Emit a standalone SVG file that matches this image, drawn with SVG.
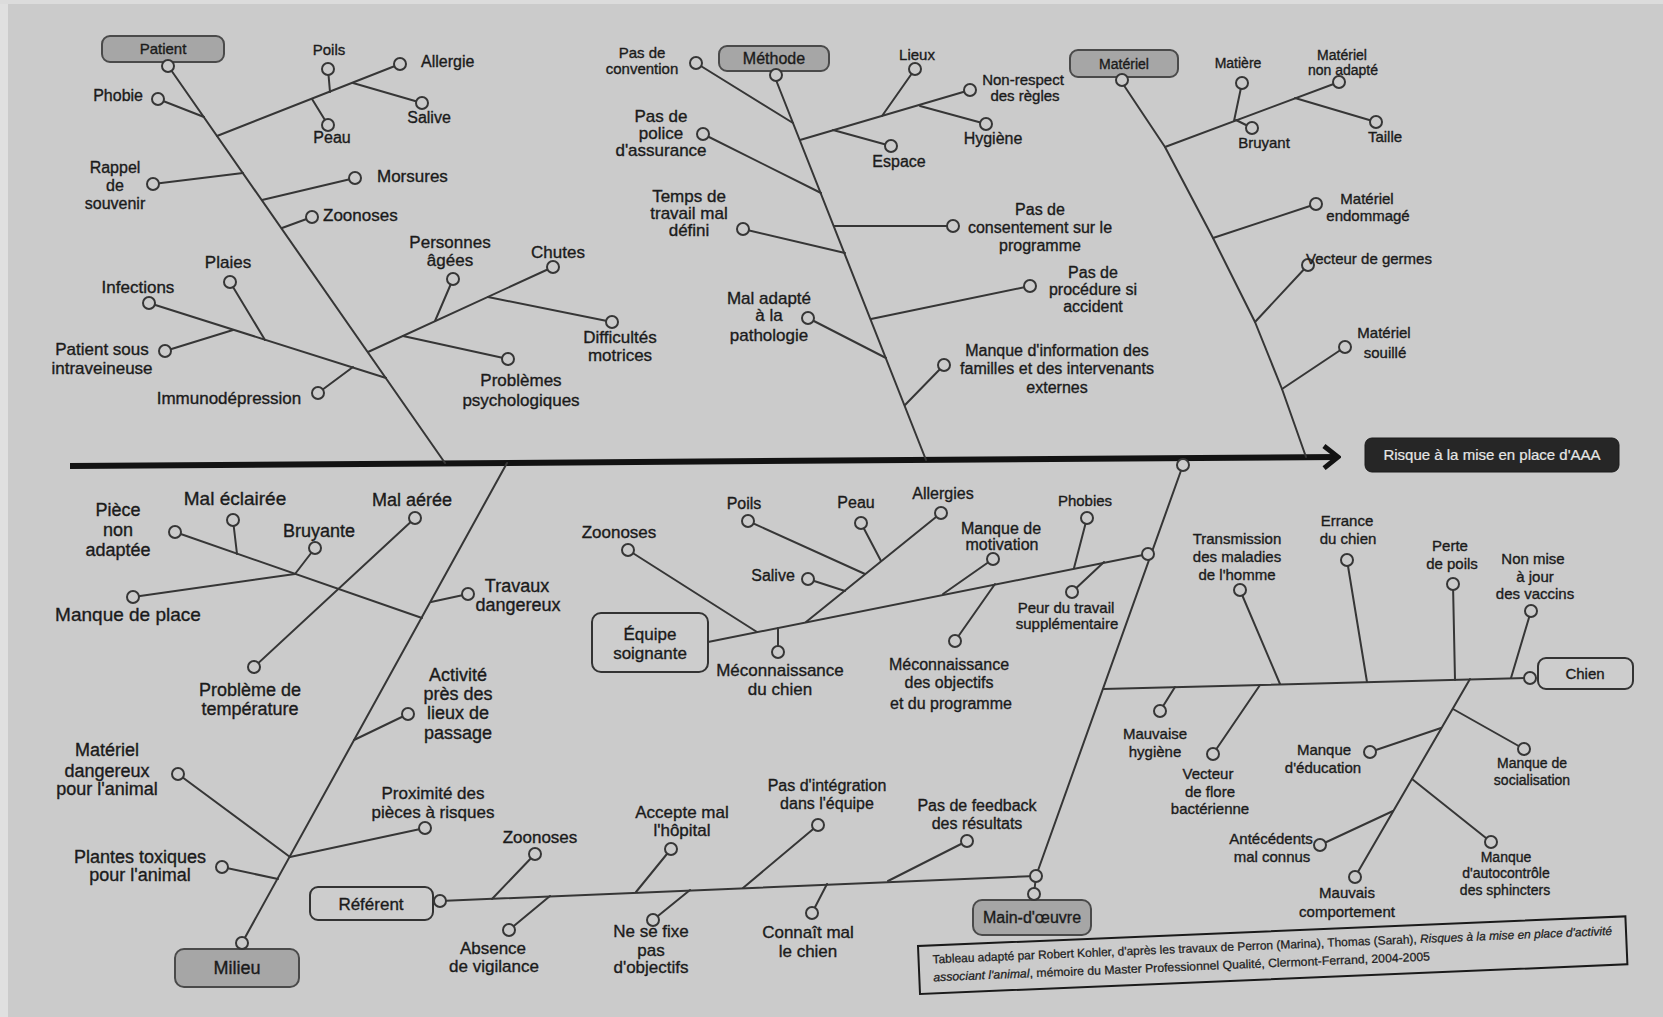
<svg xmlns="http://www.w3.org/2000/svg" width="1663" height="1017" viewBox="0 0 1663 1017">
<defs>
<style>
.ln{stroke:#363636;stroke-width:2;fill:none;stroke-linecap:round;stroke-linejoin:round}
.dot{fill:#cbcbcb;stroke:#363636;stroke-width:2}
.gbox{fill:#a6a6a6;stroke:#4a4a4a;stroke-width:2}
.lbox{fill:#cdcdcd;stroke:#333;stroke-width:2}
text{font-family:"Liberation Sans",Arial,sans-serif;fill:#1b1b1b;stroke:#1b1b1b;stroke-width:0.35px;font-size:17px;text-anchor:middle}
.f14{font-size:14px}.f15{font-size:15px}.f16{font-size:16px}.f17{font-size:17px}.f18{font-size:18px}.f19{font-size:19px}
.st{text-anchor:start}.en{text-anchor:end}
.wt{fill:#e6e6e6;stroke:#e6e6e6;stroke-width:0.2px}
.cap{font-size:12px;stroke-width:0.25px}
</style>
<marker id="arrow" viewBox="0 0 20 26" refX="17" refY="13" markerWidth="20" markerHeight="26" orient="auto" markerUnits="userSpaceOnUse">
<path d="M3,2 L17,13 L3,24" fill="none" stroke="#121212" stroke-width="5"/>
</marker>
</defs>
<rect x="0" y="0" width="1663" height="1017" fill="#cbcbcb"/>
<rect x="0" y="0" width="8" height="1017" fill="#e0e0e0"/>
<rect x="0" y="0" width="1663" height="4" fill="#dcdcdc"/>

<g id="connectors">
<line x1="70" y1="466" x2="1338" y2="457" stroke="#121212" stroke-width="6" marker-end="url(#arrow)"/>
<!-- Patient -->
<line class="ln" x1="171" y1="70" x2="445" y2="463"/>
<line class="ln" x1="204" y1="117" x2="158" y2="99"/>
<line class="ln" x1="217" y1="136" x2="400" y2="64"/>
<line class="ln" x1="330" y1="92" x2="328" y2="69"/>
<line class="ln" x1="312" y1="99" x2="328" y2="125"/>
<line class="ln" x1="353" y1="83" x2="422" y2="103"/>
<line class="ln" x1="243" y1="173" x2="153" y2="184"/>
<line class="ln" x1="262" y1="200" x2="355" y2="178"/>
<line class="ln" x1="282" y1="228" x2="312" y2="217"/>
<line class="ln" x1="368" y1="352" x2="553" y2="267"/>
<line class="ln" x1="435" y1="321" x2="453" y2="279"/>
<line class="ln" x1="488" y1="297" x2="612" y2="322"/>
<line class="ln" x1="403" y1="336" x2="508" y2="359"/>
<line class="ln" x1="386" y1="378" x2="149" y2="303"/>
<line class="ln" x1="265" y1="340" x2="230" y2="282"/>
<line class="ln" x1="233" y1="330" x2="165" y2="351"/>
<line class="ln" x1="353" y1="367" x2="318" y2="393"/>
<!-- Methode -->
<line class="ln" x1="776" y1="80" x2="926" y2="460"/>
<line class="ln" x1="793" y1="123" x2="696" y2="63"/>
<line class="ln" x1="800" y1="140" x2="970" y2="90"/>
<line class="ln" x1="882" y1="116" x2="915" y2="69"/>
<line class="ln" x1="920" y1="106" x2="986" y2="124"/>
<line class="ln" x1="833" y1="130" x2="891" y2="146"/>
<line class="ln" x1="821" y1="193" x2="703" y2="134"/>
<line class="ln" x1="834" y1="226" x2="953" y2="226"/>
<line class="ln" x1="845" y1="253" x2="743" y2="229"/>
<line class="ln" x1="871" y1="319" x2="1030" y2="286"/>
<line class="ln" x1="886" y1="358" x2="808" y2="318"/>
<line class="ln" x1="905" y1="405" x2="944" y2="365"/>
<!-- Materiel -->
<polyline class="ln" points="1123,84 1165,147 1213,238 1255,322 1282,389 1306,457"/>
<line class="ln" x1="1165" y1="147" x2="1339" y2="82"/>
<line class="ln" x1="1234" y1="121" x2="1242" y2="83"/>
<line class="ln" x1="1236" y1="120" x2="1252" y2="128"/>
<line class="ln" x1="1295" y1="98" x2="1376" y2="122"/>
<line class="ln" x1="1213" y1="238" x2="1316" y2="204"/>
<line class="ln" x1="1255" y1="322" x2="1308" y2="265"/>
<line class="ln" x1="1282" y1="389" x2="1345" y2="347"/>
<!-- Milieu -->
<line class="ln" x1="507" y1="463" x2="242" y2="943"/>
<line class="ln" x1="422" y1="618" x2="175" y2="532"/>
<line class="ln" x1="237" y1="554" x2="233" y2="520"/>
<line class="ln" x1="295" y1="574" x2="315" y2="548"/>
<line class="ln" x1="295" y1="574" x2="133" y2="597"/>
<line class="ln" x1="415" y1="518" x2="254" y2="667"/>
<line class="ln" x1="431" y1="602" x2="468" y2="594"/>
<line class="ln" x1="354" y1="740" x2="408" y2="714"/>
<line class="ln" x1="290" y1="857" x2="425" y2="828"/>
<line class="ln" x1="290" y1="857" x2="178" y2="774"/>
<line class="ln" x1="278" y1="879" x2="222" y2="867"/>
<!-- Referent -->
<line class="ln" x1="440" y1="901" x2="1036" y2="876"/>
<line class="ln" x1="492" y1="899" x2="535" y2="854"/>
<line class="ln" x1="550" y1="896" x2="509" y2="930"/>
<line class="ln" x1="636" y1="892" x2="671" y2="849"/>
<line class="ln" x1="690" y1="890" x2="653" y2="920"/>
<line class="ln" x1="743" y1="888" x2="818" y2="825"/>
<line class="ln" x1="827" y1="884" x2="812" y2="913"/>
<line class="ln" x1="888" y1="881" x2="967" y2="841"/>
<!-- Main d'oeuvre -->
<line class="ln" x1="1183" y1="465" x2="1036" y2="876"/>
<line class="ln" x1="1036" y1="876" x2="1034" y2="894"/>
<!-- Equipe soignante -->
<line class="ln" x1="708" y1="642" x2="1148" y2="554"/>
<line class="ln" x1="757" y1="632" x2="628" y2="550"/>
<line class="ln" x1="778" y1="628" x2="778" y2="652"/>
<line class="ln" x1="806" y1="622" x2="941" y2="513"/>
<line class="ln" x1="865" y1="574" x2="748" y2="521"/>
<line class="ln" x1="881" y1="561" x2="861" y2="523"/>
<line class="ln" x1="845" y1="591" x2="808" y2="579"/>
<line class="ln" x1="943" y1="594" x2="993" y2="559"/>
<line class="ln" x1="995" y1="584" x2="955" y2="641"/>
<line class="ln" x1="1074" y1="568" x2="1087" y2="518"/>
<line class="ln" x1="1104" y1="562" x2="1072" y2="592"/>
<!-- Chien -->
<line class="ln" x1="1103" y1="689" x2="1530" y2="678"/>
<line class="ln" x1="1280" y1="684" x2="1240" y2="590"/>
<line class="ln" x1="1367" y1="682" x2="1347" y2="560"/>
<line class="ln" x1="1455" y1="680" x2="1453" y2="584"/>
<line class="ln" x1="1511" y1="678" x2="1531" y2="611"/>
<line class="ln" x1="1175" y1="687" x2="1160" y2="711"/>
<line class="ln" x1="1260" y1="685" x2="1213" y2="754"/>
<line class="ln" x1="1470" y1="679" x2="1355" y2="877"/>
<line class="ln" x1="1453" y1="709" x2="1524" y2="749"/>
<line class="ln" x1="1441" y1="728" x2="1370" y2="752"/>
<line class="ln" x1="1412" y1="779" x2="1491" y2="842"/>
<line class="ln" x1="1393" y1="811" x2="1320" y2="845"/>
</g>

<!-- Category nodes -->
<g id="patient"><rect class="gbox" x="102" y="36" width="122" height="26" rx="8"/><text class="f15" x="163" y="54">Patient</text><circle class="dot" cx="168" cy="66" r="6"/></g>
<g id="methode"><rect class="gbox" x="719" y="46" width="110" height="25" rx="8"/><text class="f16" x="774" y="64">Méthode</text><circle class="dot" cx="776" cy="75" r="6"/></g>
<g id="materiel"><rect class="gbox" x="1070" y="50" width="108" height="27" rx="8"/><text class="f14" x="1124" y="69">Matériel</text><circle class="dot" cx="1122" cy="80" r="6"/></g>
<g id="milieu"><rect class="gbox" x="175" y="949" width="124" height="38" rx="9"/><text class="f18" x="237" y="974">Milieu</text><circle class="dot" cx="242" cy="943" r="6"/></g>
<g id="main-oeuvre"><rect class="gbox" x="973" y="900" width="118" height="35" rx="9"/><text class="f16" x="1032" y="923">Main-d'œuvre</text><circle class="dot" cx="1034" cy="894" r="6"/><circle class="dot" cx="1036" cy="876" r="6"/><circle class="dot" cx="1183" cy="465" r="6"/></g>
<g id="referent"><rect class="lbox" x="310" y="887" width="123" height="33" rx="8"/><text class="f17" x="371" y="910">Référent</text><circle class="dot" cx="440" cy="901" r="6"/></g>
<g id="equipe"><rect class="lbox" x="592" y="613" width="116" height="59" rx="9"/><text class="f17" x="650" y="640">Équipe</text><text class="f17" x="650" y="659">soignante</text><circle class="dot" cx="1148" cy="554" r="6"/></g>
<g id="chien"><rect class="lbox" x="1538" y="658" width="95" height="31" rx="8"/><text class="f15" x="1585" y="679">Chien</text><circle class="dot" cx="1530" cy="678" r="6"/></g>
<g id="resultat"><rect x="1365" y="438" width="254" height="34" rx="7" fill="#262626" stroke="#1a1a1a" stroke-width="1"/><text class="f15 wt" x="1492" y="460">Risque à la mise en place d'AAA</text></g>

<!-- Patient causes -->
<g id="phobie"><circle class="dot" cx="158" cy="99" r="6"/><text class="f16 en" x="143" y="101">Phobie</text></g>
<g id="poils1"><circle class="dot" cx="328" cy="69" r="6"/><text class="f15" x="329" y="55">Poils</text></g>
<g id="allergie"><circle class="dot" cx="400" cy="64" r="6"/><text class="f16 st" x="421" y="67">Allergie</text></g>
<g id="peau1"><circle class="dot" cx="328" cy="125" r="6"/><text class="f16" x="332" y="143">Peau</text></g>
<g id="salive1"><circle class="dot" cx="422" cy="103" r="6"/><text class="f16" x="429" y="123">Salive</text></g>
<g id="rappel"><circle class="dot" cx="153" cy="184" r="6"/><text class="f16" x="115" y="173">Rappel</text><text class="f16" x="115" y="191">de</text><text class="f16" x="115" y="209">souvenir</text></g>
<g id="morsures"><circle class="dot" cx="355" cy="178" r="6"/><text class="f17 st" x="377" y="182">Morsures</text></g>
<g id="zoonoses1"><circle class="dot" cx="312" cy="217" r="6"/><text class="f17 st" x="323" y="221">Zoonoses</text></g>
<g id="infections"><circle class="dot" cx="149" cy="303" r="6"/><text class="f17" x="138" y="293">Infections</text></g>
<g id="plaies"><circle class="dot" cx="230" cy="282" r="6"/><text class="f17" x="228" y="268">Plaies</text></g>
<g id="intraveineuse"><circle class="dot" cx="165" cy="351" r="6"/><text class="f17" x="102" y="355">Patient sous</text><text class="f17" x="102" y="374">intraveineuse</text></g>
<g id="immuno"><circle class="dot" cx="318" cy="393" r="6"/><text class="f17" x="229" y="404">Immunodépression</text></g>
<g id="personnes"><circle class="dot" cx="453" cy="279" r="6"/><text class="f17" x="450" y="248">Personnes</text><text class="f17" x="450" y="266">âgées</text></g>
<g id="chutes"><circle class="dot" cx="553" cy="267" r="6"/><text class="f17" x="558" y="258">Chutes</text></g>
<g id="difficultes"><circle class="dot" cx="612" cy="322" r="6"/><text class="f17" x="620" y="343">Difficultés</text><text class="f17" x="620" y="361">motrices</text></g>
<g id="problemes"><circle class="dot" cx="508" cy="359" r="6"/><text class="f17" x="521" y="386">Problèmes</text><text class="f17" x="521" y="406">psychologiques</text></g>

<!-- Methode causes -->
<g id="convention"><circle class="dot" cx="696" cy="63" r="6"/><text class="f15" x="642" y="58">Pas de</text><text class="f15" x="642" y="74">convention</text></g>
<g id="lieux"><circle class="dot" cx="915" cy="69" r="6"/><text class="f15" x="917" y="60">Lieux</text></g>
<g id="nonrespect"><circle class="dot" cx="970" cy="90" r="6"/><text class="f15" x="1023" y="85">Non-respect</text><text class="f15" x="1025" y="101">des règles</text></g>
<g id="hygiene1"><circle class="dot" cx="986" cy="124" r="6"/><text class="f16" x="993" y="144">Hygiène</text></g>
<g id="espace"><circle class="dot" cx="891" cy="146" r="6"/><text class="f16" x="899" y="167">Espace</text></g>
<g id="police"><circle class="dot" cx="703" cy="134" r="6"/><text class="f17" x="661" y="122">Pas de</text><text class="f17" x="661" y="139">police</text><text class="f17" x="661" y="156">d'assurance</text></g>
<g id="temps"><circle class="dot" cx="743" cy="229" r="6"/><text class="f17" x="689" y="202">Temps de</text><text class="f17" x="689" y="219">travail mal</text><text class="f17" x="689" y="236">défini</text></g>
<g id="consentement"><circle class="dot" cx="953" cy="226" r="6"/><text class="f16" x="1040" y="215">Pas de</text><text class="f16" x="1040" y="233">consentement sur le</text><text class="f16" x="1040" y="251">programme</text></g>
<g id="procedure"><circle class="dot" cx="1030" cy="286" r="6"/><text class="f16" x="1093" y="278">Pas de</text><text class="f16" x="1093" y="295">procédure si</text><text class="f16" x="1093" y="312">accident</text></g>
<g id="maladapte"><circle class="dot" cx="808" cy="318" r="6"/><text class="f17" x="769" y="304">Mal adapté</text><text class="f17" x="769" y="321">à la</text><text class="f17" x="769" y="341">pathologie</text></g>
<g id="information"><circle class="dot" cx="944" cy="365" r="6"/><text class="f16" x="1057" y="356">Manque d'information des</text><text class="f16" x="1057" y="374">familles et des intervenants</text><text class="f16" x="1057" y="393">externes</text></g>

<!-- Materiel causes -->
<g id="matiere"><circle class="dot" cx="1242" cy="83" r="6"/><text class="f14" x="1238" y="68">Matière</text></g>
<g id="nonadapte"><circle class="dot" cx="1339" cy="82" r="6"/><text class="f14" x="1342" y="60">Matériel</text><text class="f14" x="1343" y="75">non adapté</text></g>
<g id="bruyant"><circle class="dot" cx="1252" cy="128" r="6"/><text class="f15" x="1264" y="148">Bruyant</text></g>
<g id="taille"><circle class="dot" cx="1376" cy="122" r="6"/><text class="f15" x="1385" y="142">Taille</text></g>
<g id="endommage"><circle class="dot" cx="1316" cy="204" r="6"/><text class="f15" x="1367" y="204">Matériel</text><text class="f15" x="1368" y="221">endommagé</text></g>
<g id="vecteurgermes"><circle class="dot" cx="1308" cy="265" r="6"/><text class="f15 st" x="1306" y="264">Vecteur de germes</text></g>
<g id="souille"><circle class="dot" cx="1345" cy="347" r="6"/><text class="f15" x="1384" y="338">Matériel</text><text class="f15" x="1385" y="358">souillé</text></g>

<!-- Milieu causes -->
<g id="piece"><circle class="dot" cx="175" cy="532" r="6"/><text class="f18" x="118" y="516">Pièce</text><text class="f18" x="118" y="536">non</text><text class="f18" x="118" y="556">adaptée</text></g>
<g id="eclairee"><circle class="dot" cx="233" cy="520" r="6"/><text class="f19" x="235" y="505">Mal éclairée</text></g>
<g id="bruyante"><circle class="dot" cx="315" cy="548" r="6"/><text class="f18" x="319" y="537">Bruyante</text></g>
<g id="aeree"><circle class="dot" cx="415" cy="518" r="6"/><text class="f18 st" x="372" y="506">Mal aérée</text></g>
<g id="place"><circle class="dot" cx="133" cy="597" r="6"/><text class="f19" x="128" y="621">Manque de place</text></g>
<g id="temperature"><circle class="dot" cx="254" cy="667" r="6"/><text class="f18" x="250" y="696">Problème de</text><text class="f18" x="250" y="715">température</text></g>
<g id="travaux"><circle class="dot" cx="468" cy="594" r="6"/><text class="f18" x="517" y="592">Travaux</text><text class="f18" x="518" y="611">dangereux</text></g>
<g id="activite"><circle class="dot" cx="408" cy="714" r="6"/><text class="f18" x="458" y="681">Activité</text><text class="f18" x="458" y="700">près des</text><text class="f18" x="458" y="719">lieux de</text><text class="f18" x="458" y="739">passage</text></g>
<g id="proximite"><circle class="dot" cx="425" cy="828" r="6"/><text class="f17" x="433" y="799">Proximité des</text><text class="f17" x="433" y="818">pièces à risques</text></g>
<g id="dangereux"><circle class="dot" cx="178" cy="774" r="6"/><text class="f18" x="107" y="756">Matériel</text><text class="f18" x="107" y="777">dangereux</text><text class="f18" x="107" y="795">pour l'animal</text></g>
<g id="plantes"><circle class="dot" cx="222" cy="867" r="6"/><text class="f18" x="140" y="863">Plantes toxiques</text><text class="f18" x="140" y="881">pour l'animal</text></g>

<!-- Referent causes -->
<g id="zoonoses3"><circle class="dot" cx="535" cy="854" r="6"/><text class="f17" x="540" y="843">Zoonoses</text></g>
<g id="absence"><circle class="dot" cx="509" cy="930" r="6"/><text class="f17" x="493" y="954">Absence</text><text class="f17" x="494" y="972">de vigilance</text></g>
<g id="accepte"><circle class="dot" cx="671" cy="849" r="6"/><text class="f17" x="682" y="818">Accepte mal</text><text class="f17" x="682" y="836">l'hôpital</text></g>
<g id="objectifs"><circle class="dot" cx="653" cy="920" r="6"/><text class="f17" x="651" y="937">Ne se fixe</text><text class="f17" x="651" y="956">pas</text><text class="f17" x="651" y="973">d'objectifs</text></g>
<g id="integration"><circle class="dot" cx="818" cy="825" r="6"/><text class="f16" x="827" y="791">Pas d'intégration</text><text class="f16" x="827" y="809">dans l'équipe</text></g>
<g id="connait"><circle class="dot" cx="812" cy="913" r="6"/><text class="f17" x="808" y="938">Connaît mal</text><text class="f17" x="808" y="957">le chien</text></g>
<g id="feedback"><circle class="dot" cx="967" cy="841" r="6"/><text class="f16" x="977" y="811">Pas de feedback</text><text class="f16" x="977" y="829">des résultats</text></g>

<!-- Equipe soignante causes -->
<g id="zoonoses2"><circle class="dot" cx="628" cy="550" r="6"/><text class="f17" x="619" y="538">Zoonoses</text></g>
<g id="meconnaissance-chien"><circle class="dot" cx="778" cy="652" r="6"/><text class="f17" x="780" y="676">Méconnaissance</text><text class="f17" x="780" y="695">du chien</text></g>
<g id="poils2"><circle class="dot" cx="748" cy="521" r="6"/><text class="f16" x="744" y="509">Poils</text></g>
<g id="peau2"><circle class="dot" cx="861" cy="523" r="6"/><text class="f16" x="856" y="508">Peau</text></g>
<g id="salive2"><circle class="dot" cx="808" cy="579" r="6"/><text class="f16" x="773" y="581">Salive</text></g>
<g id="allergies"><circle class="dot" cx="941" cy="513" r="6"/><text class="f16" x="943" y="499">Allergies</text></g>
<g id="motivation"><circle class="dot" cx="993" cy="559" r="6"/><text class="f16" x="1001" y="534">Manque de</text><text class="f16" x="1002" y="550">motivation</text></g>
<g id="meconnaissance-obj"><circle class="dot" cx="955" cy="641" r="6"/><text class="f16" x="949" y="670">Méconnaissance</text><text class="f16" x="949" y="688">des objectifs</text><text class="f16" x="951" y="709">et du programme</text></g>
<g id="phobies"><circle class="dot" cx="1087" cy="518" r="6"/><text class="f15" x="1085" y="506">Phobies</text></g>
<g id="peur"><circle class="dot" cx="1072" cy="592" r="6"/><text class="f15" x="1066" y="613">Peur du travail</text><text class="f15" x="1067" y="629">supplémentaire</text></g>

<!-- Chien causes -->
<g id="transmission"><circle class="dot" cx="1240" cy="590" r="6"/><text class="f15" x="1237" y="544">Transmission</text><text class="f15" x="1237" y="562">des maladies</text><text class="f15" x="1237" y="580">de l'homme</text></g>
<g id="errance"><circle class="dot" cx="1347" cy="560" r="6"/><text class="f15" x="1347" y="526">Errance</text><text class="f15" x="1348" y="544">du chien</text></g>
<g id="perte"><circle class="dot" cx="1453" cy="584" r="6"/><text class="f15" x="1450" y="551">Perte</text><text class="f15" x="1452" y="569">de poils</text></g>
<g id="vaccins"><circle class="dot" cx="1531" cy="611" r="6"/><text class="f15" x="1533" y="564">Non mise</text><text class="f15" x="1535" y="582">à jour</text><text class="f15" x="1535" y="599">des vaccins</text></g>
<g id="hygiene2"><circle class="dot" cx="1160" cy="711" r="6"/><text class="f15" x="1155" y="739">Mauvaise</text><text class="f15" x="1155" y="757">hygiène</text></g>
<g id="flore"><circle class="dot" cx="1213" cy="754" r="6"/><text class="f15" x="1208" y="779">Vecteur</text><text class="f15" x="1210" y="797">de flore</text><text class="f15" x="1210" y="814">bactérienne</text></g>
<g id="socialisation"><circle class="dot" cx="1524" cy="749" r="6"/><text class="f14" x="1532" y="768">Manque de</text><text class="f14" x="1532" y="785">socialisation</text></g>
<g id="education"><circle class="dot" cx="1370" cy="752" r="6"/><text class="f15" x="1324" y="755">Manque</text><text class="f15" x="1323" y="773">d'éducation</text></g>
<g id="autocontrole"><circle class="dot" cx="1491" cy="842" r="6"/><text class="f14" x="1506" y="862">Manque</text><text class="f14" x="1506" y="878">d'autocontrôle</text><text class="f14" x="1505" y="895">des sphincters</text></g>
<g id="antecedents"><circle class="dot" cx="1320" cy="845" r="6"/><text class="f15" x="1271" y="844">Antécédents</text><text class="f15" x="1272" y="862">mal connus</text></g>
<g id="comportement"><circle class="dot" cx="1355" cy="877" r="6"/><text class="f15" x="1347" y="898">Mauvais</text><text class="f15" x="1347" y="917">comportement</text></g>

<!-- Caption -->
<g id="caption" transform="rotate(-2.4 918 946)">
<rect x="918" y="946" width="708" height="48" fill="none" stroke="#1a1a1a" stroke-width="2"/>
<text class="st cap" x="932" y="964" textLength="680" lengthAdjust="spacingAndGlyphs">Tableau adapté par Robert Kohler, d'après les travaux de Perron (Marina), Thomas (Sarah), <tspan font-style="italic">Risques à la mise en place d'activité</tspan></text>
<text class="st cap" x="932" y="982" textLength="497" lengthAdjust="spacingAndGlyphs"><tspan font-style="italic">associant l'animal</tspan>, mémoire du Master Professionnel Qualité, Clermont-Ferrand, 2004-2005</text>
</g>
</svg>
